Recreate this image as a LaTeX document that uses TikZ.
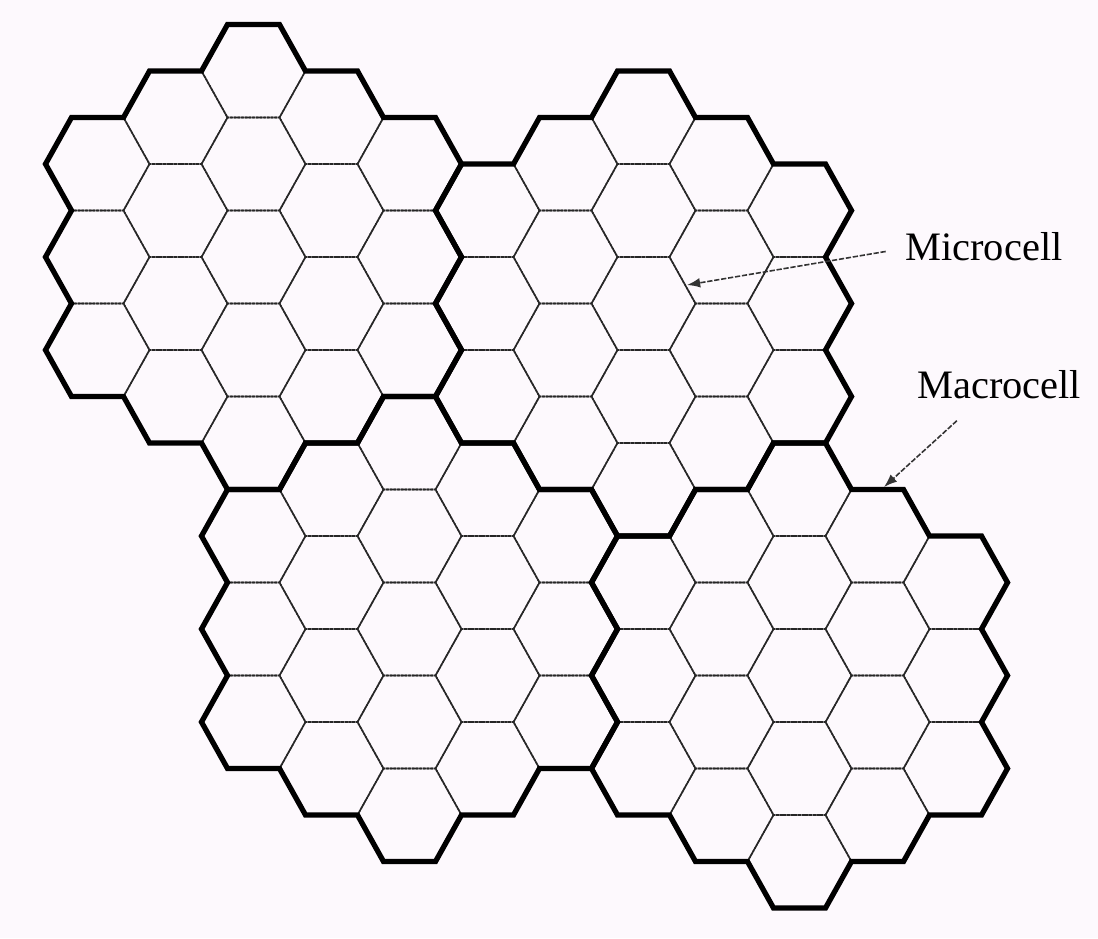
\documentclass[tikz,border=0pt]{standalone}
\usepackage{fontspec}
\setmainfont{Liberation Serif}
\usetikzlibrary{arrows.meta}

\definecolor{paper}{RGB}{253,249,253}

\begin{document}
\begin{tikzpicture}[
    x=0.02cm, y=-0.02cm,
    microedge/.style={line width=0.9pt, draw=black!85, dash pattern=on 1.6pt off 0.5pt},
    macroedge/.style={line width=3pt, draw=black, line join=miter},
    pointer/.style={-{Latex[length=7.5pt, width=5.5pt]}, line width=0.9pt, draw=black!80, dash pattern=on 3pt off 1pt},
    celllabel/.style={font=\fontsize{23}{27}\selectfont, inner sep=0pt, anchor=base west}
]

\fill[paper] (0,0) rectangle (1098,938);
\useasboundingbox (0,0) rectangle (1098,938);

% Macrocells of 19 microcells each
\foreach \mq/\mr in {0/0, 5/-2, 2/3, 7/1} {
  \begin{scope}[shift={({253.5+78*\mq},{257+46.5*(2*\mr+\mq)})}, xscale=52, yscale=53.69]
    \foreach \q/\rows in {-2/{-1,0,1}, -1/{-1.5,-0.5,0.5,1.5}, 0/{-2,-1,0,1,2}, 1/{-1.5,-0.5,0.5,1.5}, 2/{-1,0,1}}
      \foreach \v in \rows
        \draw[microedge] ({1.5*\q+1},{1.7320508*\v}) -- ++(120:1) -- ++(180:1) -- ++(240:1) -- ++(300:1) -- ++(0:1) -- cycle;
    \draw[macroedge] (-4,-1.7320508)
      \foreach \k in {0,...,5} { -- ++({60*\k-60}:1) -- ++({60*\k}:1) -- ++({60*\k-60}:1) -- ++({60*\k}:1) -- ++({60*\k-60}:1) } -- cycle;
  \end{scope}
}

% Labels
\node (microlbl) [celllabel] at (905,260) {Microcell};
\node (macrolbl) [celllabel] at (917,398) {Macrocell};

\coordinate (microtip) at (687,285);
\coordinate (macrotip) at (884,487);

\draw [pointer] ([xshift=-11pt, yshift=-3pt]microlbl.west) -- (microtip);
\draw [pointer] ([xshift=22.7pt, yshift=-12.5pt]macrolbl.south west) -- (macrotip);

\end{tikzpicture}
\end{document}
